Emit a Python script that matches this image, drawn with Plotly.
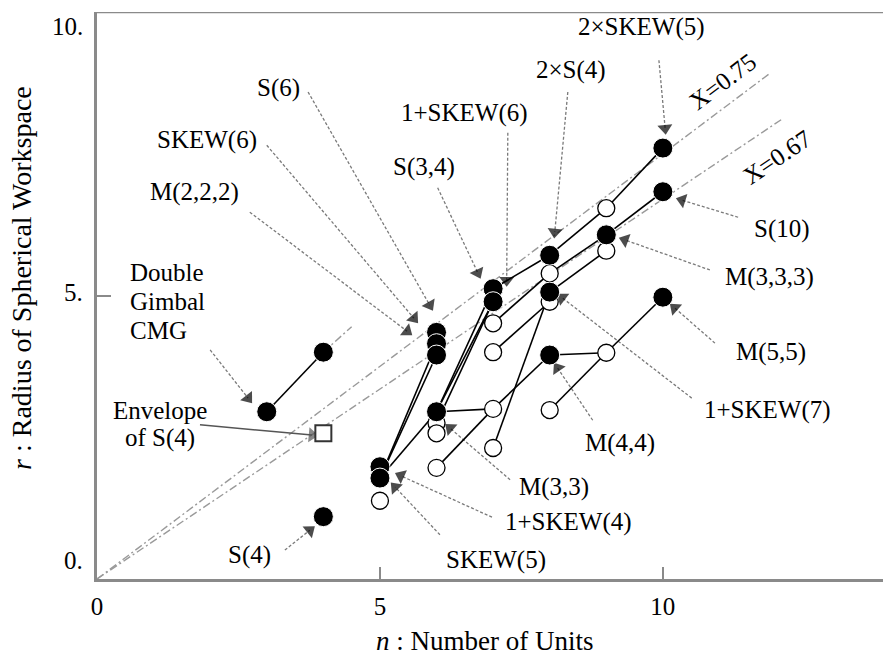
import plotly.graph_objects as go

# ---------------- data ----------------
filled_n = [3, 4, 4, 5, 5, 6, 6, 6, 6, 7, 7, 8, 8, 8, 9, 10, 10, 10]
filled_r = [2.95, 4.0, 1.1, 1.98, 1.78, 4.35, 4.15, 3.95, 2.95, 5.12, 4.89, 5.71, 5.06, 3.95, 6.07, 7.6, 6.83, 4.97]
open_n = [5, 6, 6, 6, 7, 7, 7, 7, 8, 8, 8, 9, 9, 9]
open_r = [1.38, 2.75, 2.57, 1.96, 4.51, 4.0, 3.0, 2.31, 5.39, 4.89, 2.98, 6.54, 5.79, 3.99]
envelope_n = [4]
envelope_r = [2.57]

# connecting segments (n1, r1, n2, r2)
links = [
    (3, 2.95, 4, 4.0),
    (5, 1.78, 6, 3.95), (5, 1.78, 6, 4.15),
    (5, 1.78, 6, 2.95),
    (6, 2.95, 7, 5.12), (6, 2.95, 7, 4.89), (6, 2.75, 7, 4.89),
    (6, 2.95, 7, 3.0),
    (6, 1.96, 7, 3.0), (7, 3.0, 8, 3.95),
    (8, 3.95, 9, 3.99),
    (8, 2.98, 9, 3.99), (9, 3.99, 10, 4.97),
    (7, 2.31, 8, 5.06), (7, 4.0, 8, 4.89),
    (7, 5.12, 8, 5.71), (8, 5.71, 9, 6.54), (9, 6.54, 10, 7.6),
    (7, 4.51, 8, 5.39), (8, 5.39, 9, 6.07), (8, 5.06, 9, 5.79), (9, 6.07, 10, 6.83),
]

ratio_vals = [0.75, 0.67]
ratio_ends = [11.9, 12.1]
ratio_text = ["X=0.75", "X=0.67"]

xtick_vals = [0, 5, 10]
xtick_text = ["0", "5", "10"]
ytick_vals = [0, 5, 10]
ytick_text = ["0.", "5.", "10."]

# labels: text, label pos, leader start, leader tip (data units)
callouts = [
    ("2×SKEW(5)", (9.63, 9.74), (9.93, 9.15), (10.04, 7.95)),
    ("2×S(4)", (8.37, 8.98), (8.32, 8.59), (8.09, 6.12)),
    ("1+SKEW(6)", (6.50, 8.22), (7.26, 7.87), (7.24, 5.27)),
    ("S(3,4)", (5.78, 7.27), (6.02, 6.90), (6.73, 5.40)),
    ("S(6)", (3.20, 8.66), (3.73, 8.59), (5.88, 4.83)),
    ("SKEW(6)", (1.94, 7.74), (3.00, 7.65), (5.60, 4.60)),
    ("M(2,2,2)", (1.73, 6.83), (2.70, 6.47), (5.48, 4.37)),
    ("S(4)", (2.70, 0.42), (3.32, 0.51), (3.76, 0.86)),
    ("SKEW(5)", (7.05, 0.34), (6.06, 0.78), (5.27, 1.62)),
    ("1+SKEW(4)", (8.34, 1.01), (6.98, 1.09), (5.37, 1.82)),
    ("M(3,3)", (8.07, 1.62), (7.30, 1.75), (6.24, 2.66)),
    ("M(4,4)", (9.24, 2.40), (8.76, 2.80), (8.14, 3.72)),
    ("1+SKEW(7)", (11.84, 2.98), (10.51, 3.19), (8.22, 4.96)),
    ("M(5,5)", (11.91, 4.00), (10.92, 4.16), (10.21, 4.78)),
    ("M(3,3,3)", (11.89, 5.33), (10.83, 5.45), (9.33, 5.98)),
    ("S(10)", (12.10, 6.17), (11.33, 6.38), (10.34, 6.68)),
]
gimbal_lines = ["Double", "Gimbal", "CMG"]
gimbal_pos = [(0.55, 5.40), (0.55, 4.89), (0.55, 4.39)]
gimbal_leader = ((2.00, 4.04), (2.67, 3.19))
envelope_lines = ["Envelope", "of S(4)"]
envelope_pos = [(1.11, 2.98), (1.11, 2.48)]
envelope_leader = ((1.82, 2.72), (3.80, 2.54))

FONT = "Liberation Serif"
LAB = 25
fig = go.Figure()

dashdot = "8px,3px,2px,3px"
for v, e in zip(ratio_vals, ratio_ends):
    fig.add_trace(go.Scatter(x=[0, e], y=[0, v * e], mode="lines",
                             line=dict(color="#9a9a9a", width=1.4, dash=dashdot),
                             hoverinfo="skip", showlegend=False))
fig.add_trace(go.Scatter(x=[4.0, 4.5], y=[4.0, 4.45], mode="lines",
                         line=dict(color="#9a9a9a", width=1.4, dash=dashdot),
                         hoverinfo="skip", showlegend=False))

leaders = [(st, tip) for _, _, st, tip in callouts] + [gimbal_leader]
for st, tip in leaders:
    fig.add_trace(go.Scatter(x=[st[0], tip[0]], y=[st[1], tip[1]], mode="lines+markers",
                             line=dict(color="#7a7a7a", width=1.3, dash="3px,2px"),
                             marker=dict(symbol="triangle-up", size=[0, 13], color="black",
                                         angleref="previous", line=dict(width=0)),
                             hoverinfo="skip", showlegend=False))
st, tip = envelope_leader
fig.add_trace(go.Scatter(x=[st[0], tip[0]], y=[st[1], tip[1]], mode="lines+markers",
                         line=dict(color="#555555", width=1.5),
                         marker=dict(symbol="triangle-up", size=[0, 13], color="#555555",
                                     angleref="previous", line=dict(width=0)),
                         hoverinfo="skip", showlegend=False))

lx, ly = [], []
for n1, r1, n2, r2 in links:
    lx += [n1, n2, None]
    ly += [r1, r2, None]
fig.add_trace(go.Scatter(x=lx, y=ly, mode="lines", line=dict(color="black", width=1.6),
                         hoverinfo="skip", showlegend=False))

fig.add_trace(go.Scatter(x=open_n, y=open_r, mode="markers",
                         marker=dict(symbol="circle", size=17, color="white",
                                     line=dict(color="black", width=1.3)),
                         showlegend=False))
fig.add_trace(go.Scatter(x=filled_n, y=filled_r, mode="markers",
                         marker=dict(symbol="circle", size=20, color="black",
                                     line=dict(color="white", width=1)),
                         showlegend=False))
fig.add_trace(go.Scatter(x=envelope_n, y=envelope_r, mode="markers",
                         marker=dict(symbol="square", size=16, color="white",
                                     line=dict(color="#333333", width=2)),
                         showlegend=False))

tf = dict(family=FONT, size=LAB, color="black")
annotations = []
for text, lab, st, tip in callouts:
    annotations.append(dict(x=lab[0], y=lab[1], text=text, showarrow=False,
                            xanchor="center", font=tf))
for t, p in zip(gimbal_lines, gimbal_pos):
    annotations.append(dict(x=p[0], y=p[1], text=t, showarrow=False, xanchor="left", font=tf))
for t, p in zip(envelope_lines, envelope_pos):
    annotations.append(dict(x=p[0], y=p[1], text=t, showarrow=False, xanchor="center", font=tf))
annotations.append(dict(x=11.06, y=8.77, text=ratio_text[0], showarrow=False, textangle=-37, font=tf))
annotations.append(dict(x=12.01, y=7.44, text=ratio_text[1], showarrow=False, textangle=-34, font=tf))
for t, dy in zip(ytick_text, [0.32, 5.06, 9.75]):
    annotations.append(dict(x=-0.015, xref="paper", y=dy, yref="y", text=t, showarrow=False,
                            xanchor="right", font=dict(family=FONT, size=25, color="black")))
# axis titles
annotations.append(dict(x=6.84, y=-0.109, yref="paper", text="<i>n</i> : Number of Units",
                        showarrow=False, xanchor="center", yanchor="middle",
                        font=dict(family=FONT, size=27, color="black")))
annotations.append(dict(x=-0.0954, xref="paper", y=5.31, text="<i>r</i> : Radius of Spherical Workspace",
                        showarrow=False, textangle=-90, xanchor="center", yanchor="middle",
                        font=dict(family=FONT, size=28, color="black")))

fig.update_layout(
    width=883, height=658,
    margin=dict(l=97, r=0, t=12, b=79, autoexpand=False),
    plot_bgcolor="white", paper_bgcolor="white",
    font=dict(family=FONT, size=25, color="black"),
    annotations=annotations,
    shapes=[dict(type="line", xref="paper", yref="y", x0=0, x1=1, y0=10, y1=10,
                 line=dict(color="#8a8a8a", width=2.5))],
    xaxis=dict(range=[0, 13.89], showgrid=False, zeroline=False, showline=True,
               linecolor="#8a8a8a", linewidth=2.5, ticks="inside", ticklen=12,
               tickcolor="#8a8a8a", tickwidth=1.5, tickvals=xtick_vals, ticktext=xtick_text,
               ticklabelstandoff=3, tickfont=dict(family=FONT, size=25), automargin=False),
    yaxis=dict(range=[0, 10], showgrid=False, zeroline=False, showline=True,
               linecolor="#8a8a8a", linewidth=2.5, ticks="inside", ticklen=14,
               tickcolor="#8a8a8a", tickwidth=1.5, tickvals=ytick_vals, showticklabels=False,
               automargin=False),
)

fig.write_html("out.html", config={"displayModeBar": False},
               post_script="document.body.style.margin='0px';")
